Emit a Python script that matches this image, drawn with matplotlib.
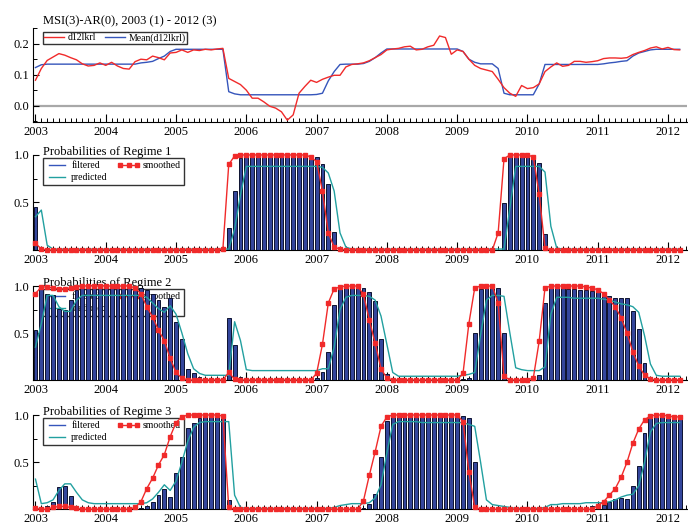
import numpy as np
import matplotlib.pyplot as plt
from matplotlib.lines import Line2D
from matplotlib.ticker import MultipleLocator, FixedLocator, FormatStrFormatter

plt.rcParams['font.family'] = ['Liberation Serif', 'DejaVu Serif']

# monthly data, 2003 (1) - 2012 (3)
start_year = 2003
title_top = 'MSI(3)-AR(0), 2003 (1) - 2012 (3)'

d12lkrl = [
    0.082, 0.120, 0.146, 0.157, 0.168, 0.163, 0.155, 0.148, 0.135, 0.128, 0.130, 0.138,
    0.130, 0.140, 0.128, 0.120, 0.118, 0.142, 0.150, 0.148, 0.160, 0.155, 0.148, 0.170,
    0.172, 0.180, 0.172, 0.180, 0.178, 0.182, 0.180, 0.183, 0.185, 0.088, 0.078, 0.068,
    0.050, 0.024, 0.024, 0.012, -0.002, -0.008, -0.020, -0.047, -0.030, 0.040, 0.062, 0.082,
    0.075, 0.085, 0.092, 0.098, 0.098, 0.125, 0.133, 0.135, 0.138, 0.145, 0.155, 0.165,
    0.180, 0.183, 0.185, 0.190, 0.192, 0.180, 0.182, 0.190, 0.195, 0.225, 0.220, 0.166,
    0.180, 0.175, 0.150, 0.130, 0.120, 0.115, 0.110, 0.085, 0.058, 0.040, 0.030, 0.065,
    0.055, 0.058, 0.070, 0.110, 0.125, 0.138, 0.127, 0.130, 0.143, 0.143, 0.140, 0.142,
    0.145, 0.152, 0.154, 0.154, 0.153, 0.155, 0.165, 0.172, 0.178, 0.186, 0.190, 0.183,
    0.188, 0.181, 0.180,
]
mean_d12lkrl = [
    0.123, 0.132, 0.134, 0.134, 0.134, 0.134, 0.134, 0.134, 0.134, 0.134, 0.134, 0.134,
    0.134, 0.134, 0.134, 0.134, 0.134, 0.134, 0.138, 0.140, 0.143, 0.152, 0.160, 0.175,
    0.182, 0.182, 0.182, 0.182, 0.182, 0.182, 0.182, 0.182, 0.182, 0.045, 0.038, 0.035,
    0.035, 0.035, 0.035, 0.035, 0.035, 0.035, 0.035, 0.035, 0.035, 0.035, 0.035, 0.035,
    0.036, 0.040, 0.080, 0.110, 0.133, 0.134, 0.134, 0.134, 0.136, 0.143, 0.155, 0.170,
    0.183, 0.183, 0.183, 0.183, 0.183, 0.183, 0.183, 0.183, 0.183, 0.183, 0.183, 0.183,
    0.183, 0.175, 0.150, 0.140, 0.135, 0.135, 0.135, 0.120, 0.040, 0.035, 0.035, 0.035,
    0.035, 0.035, 0.070, 0.133, 0.133, 0.133, 0.133, 0.133, 0.133, 0.133, 0.133, 0.133,
    0.133, 0.135, 0.138, 0.140, 0.143, 0.145, 0.160, 0.170, 0.175, 0.180, 0.182, 0.182,
    0.182, 0.182, 0.182,
]

filtered_1 = [
    0.45, 0, 0, 0, 0, 0, 0, 0, 0, 0, 0, 0,
    0, 0, 0, 0, 0, 0, 0, 0, 0, 0, 0, 0,
    0, 0, 0, 0, 0, 0, 0, 0, 0, 0.23, 0.62, 0.97,
    1.0, 1.0, 0.99, 1.0, 1.0, 1.0, 1.0, 1.0, 0.99, 1.0, 1.0, 0.97,
    0.98, 0.91, 0.69, 0.19, 0.02, 0, 0, 0, 0, 0, 0, 0,
    0, 0, 0, 0, 0, 0, 0, 0, 0, 0, 0, 0,
    0, 0, 0, 0, 0, 0, 0, 0, 0.49, 0.99, 1.0, 1.0,
    1.0, 0.99, 0.92, 0.17, 0, 0, 0, 0, 0, 0, 0, 0,
    0, 0, 0, 0, 0, 0, 0, 0, 0, 0, 0, 0,
    0, 0, 0,
]
smoothed_1 = [
    0.07, 0.01, 0, 0, 0, 0, 0, 0, 0, 0, 0, 0,
    0, 0, 0, 0, 0, 0, 0, 0, 0, 0, 0, 0,
    0, 0, 0, 0, 0, 0, 0, 0, 0.01, 0.90, 0.99, 1.0,
    1.0, 1.0, 1.0, 1.0, 1.0, 1.0, 1.0, 1.0, 1.0, 1.0, 1.0, 0.98,
    0.93, 0.62, 0.18, 0.03, 0.01, 0, 0, 0, 0, 0, 0, 0,
    0, 0, 0, 0, 0, 0, 0, 0, 0, 0, 0, 0,
    0, 0, 0, 0, 0, 0, 0, 0.18, 0.96, 1.0, 1.0, 1.0,
    1.0, 0.98, 0.59, 0.02, 0, 0, 0, 0, 0, 0, 0, 0,
    0, 0, 0, 0, 0, 0, 0, 0, 0, 0, 0, 0,
    0, 0, 0,
]
predicted_1 = [
    0.35, 0.42, 0.05, 0.01, 0.01, 0.01, 0.01, 0.01, 0.01, 0.01, 0.01, 0.01,
    0.01, 0.01, 0.01, 0.01, 0.01, 0.01, 0.01, 0.01, 0.01, 0.01, 0.01, 0.01,
    0.01, 0.01, 0.01, 0.01, 0.01, 0.01, 0.01, 0.01, 0.01, 0.01, 0.22, 0.58,
    0.88, 0.88, 0.88, 0.88, 0.88, 0.88, 0.88, 0.88, 0.88, 0.88, 0.88, 0.88,
    0.88, 0.87, 0.81, 0.62, 0.18, 0.03, 0.01, 0.01, 0.01, 0.01, 0.01, 0.01,
    0.01, 0.01, 0.01, 0.01, 0.01, 0.01, 0.01, 0.01, 0.01, 0.01, 0.01, 0.01,
    0.01, 0.01, 0.01, 0.01, 0.01, 0.01, 0.01, 0.01, 0.01, 0.44, 0.88, 0.88,
    0.88, 0.88, 0.88, 0.82, 0.25, 0.02, 0.01, 0.01, 0.01, 0.01, 0.01, 0.01,
    0.01, 0.01, 0.01, 0.01, 0.01, 0.01, 0.01, 0.01, 0.01, 0.01, 0.01, 0.01,
    0.01, 0.01, 0.01,
]

filtered_2 = [
    0.53, 0.97, 0.92, 0.90, 0.76, 0.74, 0.85, 0.96, 0.98, 0.98, 0.98, 0.98,
    0.98, 0.98, 0.98, 0.98, 0.98, 0.98, 0.98, 0.96, 0.91, 0.85, 0.78, 0.87,
    0.62, 0.44, 0.12, 0.07, 0.03, 0.01, 0.01, 0.01, 0.01, 0.66, 0.37, 0.03,
    0.01, 0.01, 0.01, 0.01, 0.01, 0.01, 0.01, 0.01, 0.01, 0.01, 0.01, 0.01,
    0.02, 0.08, 0.30, 0.80, 0.97, 0.98, 0.99, 0.99, 0.98, 0.94, 0.84, 0.44,
    0.06, 0, 0, 0, 0, 0, 0, 0, 0, 0, 0, 0,
    0, 0.01, 0.02, 0.50, 0.97, 0.98, 0.98, 0.98, 0.50, 0.01, 0, 0,
    0, 0, 0.05, 0.82, 0.98, 0.98, 0.98, 0.97, 0.97, 0.96, 0.96, 0.95,
    0.94, 0.92, 0.89, 0.87, 0.87, 0.87, 0.73, 0.54, 0.18, 0.03, 0, 0,
    0, 0, 0,
]
smoothed_2 = [
    0.92, 0.99, 0.99, 0.98, 0.97, 0.97, 0.98, 0.99, 1.0, 1.0, 1.0, 1.0,
    1.0, 1.0, 1.0, 1.0, 1.0, 0.98, 0.92, 0.78, 0.67, 0.53, 0.42, 0.23,
    0.08, 0.02, 0, 0, 0, 0, 0, 0, 0, 0.08, 0.01, 0,
    0, 0, 0, 0, 0, 0, 0, 0, 0, 0, 0, 0,
    0.07, 0.38, 0.82, 0.97, 0.99, 1.0, 1.0, 1.0, 0.91, 0.64, 0.39, 0.12,
    0.02, 0, 0, 0, 0, 0, 0, 0, 0, 0, 0, 0,
    0, 0.07, 0.60, 0.98, 1.0, 1.0, 1.0, 0.82, 0.04, 0, 0, 0,
    0, 0.02, 0.41, 0.98, 1.0, 1.0, 1.0, 1.0, 1.0, 1.0, 0.99, 0.98,
    0.96, 0.92, 0.85, 0.78, 0.66, 0.50, 0.30, 0.15, 0.05, 0.01, 0, 0,
    0, 0, 0,
]
predicted_2 = [
    0.35, 0.60, 0.90, 0.90, 0.78, 0.73, 0.73, 0.85, 0.90, 0.90, 0.90, 0.90,
    0.90, 0.90, 0.90, 0.90, 0.90, 0.90, 0.90, 0.88, 0.82, 0.76, 0.72, 0.79,
    0.70, 0.50, 0.28, 0.12, 0.07, 0.05, 0.05, 0.05, 0.05, 0.05, 0.62, 0.42,
    0.11, 0.10, 0.10, 0.10, 0.10, 0.10, 0.10, 0.10, 0.10, 0.10, 0.10, 0.10,
    0.10, 0.12, 0.12, 0.35, 0.75, 0.88, 0.90, 0.90, 0.90, 0.89, 0.85, 0.68,
    0.38, 0.08, 0.04, 0.04, 0.04, 0.04, 0.04, 0.04, 0.04, 0.04, 0.04, 0.04,
    0.04, 0.05, 0.06, 0.08, 0.48, 0.85, 0.90, 0.90, 0.89, 0.50, 0.13, 0.11,
    0.10, 0.10, 0.10, 0.14, 0.70, 0.88, 0.88, 0.88, 0.87, 0.87, 0.87, 0.87,
    0.87, 0.86, 0.85, 0.83, 0.81, 0.80, 0.78, 0.72, 0.47, 0.17, 0.05, 0.04,
    0.04, 0.04, 0.04,
]

filtered_3 = [
    0.02, 0.02, 0.04, 0.08, 0.24, 0.25, 0.14, 0.03, 0.01, 0.01, 0.01, 0.01,
    0.01, 0.01, 0.01, 0.01, 0.01, 0.01, 0.01, 0.03, 0.08, 0.15, 0.22, 0.13,
    0.38, 0.55, 0.86, 0.92, 0.97, 0.99, 0.99, 0.99, 0.99, 0.10, 0, 0,
    0, 0, 0, 0, 0, 0, 0, 0, 0, 0, 0, 0,
    0, 0, 0, 0, 0, 0, 0, 0.01, 0.01, 0.06, 0.16, 0.55,
    0.94, 1.0, 1.0, 1.0, 1.0, 0.99, 1.0, 1.0, 1.0, 1.0, 0.99, 1.0,
    1.0, 0.99, 0.97, 0.50, 0.02, 0.01, 0.01, 0.01, 0.01, 0, 0, 0,
    0, 0.01, 0.02, 0.01, 0.01, 0.01, 0.01, 0.02, 0.02, 0.02, 0.02, 0.03,
    0.02, 0.05, 0.08, 0.11, 0.12, 0.11, 0.25, 0.46, 0.81, 0.97, 1.0, 1.0,
    1.0, 0.99, 1.0,
]
smoothed_3 = [
    0.01, 0, 0, 0.02, 0.03, 0.03, 0.02, 0.01, 0, 0, 0, 0,
    0, 0, 0, 0, 0, 0.02, 0.08, 0.22, 0.33, 0.47, 0.58, 0.77,
    0.92, 0.98, 1.0, 1.0, 1.0, 1.0, 1.0, 1.0, 0.99, 0.02, 0, 0,
    0, 0, 0, 0, 0, 0, 0, 0, 0, 0, 0, 0,
    0, 0, 0, 0, 0, 0, 0, 0, 0.09, 0.36, 0.61, 0.88,
    0.98, 1.0, 1.0, 1.0, 1.0, 1.0, 1.0, 1.0, 1.0, 1.0, 1.0, 1.0,
    1.0, 0.93, 0.40, 0.02, 0, 0, 0, 0, 0, 0, 0, 0,
    0, 0, 0, 0, 0, 0, 0, 0, 0, 0, 0, 0,
    0.04, 0.08, 0.15, 0.22, 0.34, 0.50, 0.70, 0.85, 0.95, 0.99, 1.0, 1.0,
    0.99, 0.98, 0.98,
]
predicted_3 = [
    0.32, 0.06, 0.07, 0.10, 0.20, 0.27, 0.27, 0.18, 0.10, 0.07, 0.06, 0.06,
    0.06, 0.06, 0.06, 0.06, 0.06, 0.06, 0.06, 0.07, 0.11, 0.18, 0.26, 0.20,
    0.30, 0.50, 0.72, 0.87, 0.92, 0.93, 0.93, 0.93, 0.93, 0.93, 0.15, 0.02,
    0.01, 0.01, 0.01, 0.01, 0.01, 0.01, 0.01, 0.01, 0.01, 0.01, 0.01, 0.01,
    0.01, 0.01, 0.01, 0.02, 0.04, 0.05, 0.06, 0.06, 0.06, 0.07, 0.12, 0.26,
    0.60, 0.90, 0.93, 0.93, 0.93, 0.93, 0.92, 0.92, 0.92, 0.92, 0.92, 0.92,
    0.92, 0.92, 0.90, 0.88, 0.50, 0.10, 0.05, 0.04, 0.03, 0.02, 0.01, 0.01,
    0.01, 0.01, 0.01, 0.02, 0.05, 0.05, 0.06, 0.06, 0.06, 0.06, 0.07, 0.07,
    0.07, 0.07, 0.08, 0.10, 0.13, 0.15, 0.16, 0.25, 0.50, 0.82, 0.91, 0.92,
    0.92, 0.92, 0.92,
]

RED = '#f02a2a'
BLUE = '#3555bb'
TEAL = '#22a0a0'
BAR_FACE = '#34469c'
BAR_EDGE = '#0c1230'

months = start_year + np.arange(len(d12lkrl)) / 12.0

fig = plt.figure(figsize=(6.88, 5.28), dpi=100)
left, width = 0.0485, 0.950


def style_axis(ax):
    ax.spines['top'].set_visible(False)
    ax.spines['right'].set_visible(False)
    ax.set_xlim(2002.97, 2012.27)
    ax.xaxis.set_major_locator(MultipleLocator(1))
    ax.xaxis.set_minor_locator(MultipleLocator(1 / 12))
    ax.xaxis.set_major_formatter(FormatStrFormatter('%d'))
    ax.tick_params(which='major', direction='in', length=6, width=0.8, labelsize=9, pad=3)
    ax.tick_params(which='minor', direction='in', length=3, width=0.7)
    ax.tick_params(axis='y', which='major', length=4)
    ax.tick_params(axis='y', which='minor', length=3)


# top panel
ax0 = fig.add_axes([left, 0.7695, width, 0.177])
style_axis(ax0)
ax0.set_ylim(-0.052, 0.25)
ax0.yaxis.set_major_locator(FixedLocator([0.0, 0.1, 0.2]))
ax0.yaxis.set_minor_locator(MultipleLocator(0.05))
ax0.yaxis.set_major_formatter(FormatStrFormatter('%.1f'))
ax0.axhline(0, color='#a8a8a8', lw=1.6, zorder=1)
ax0.plot(months, d12lkrl, color=RED, lw=1.0, label='d12lkrl', zorder=3, clip_on=False)
ax0.plot(months, mean_d12lkrl, color=BLUE, lw=1.0, label='Mean(d12lkrl)', zorder=2)
ax0.text(0.0148, 1.043, title_top, transform=ax0.transAxes, ha='left', va='baseline', fontsize=9)
leg = ax0.legend(loc='upper left', bbox_to_anchor=(0.0148, 0.964), borderaxespad=0, ncol=2,
                 fontsize=7, frameon=True, fancybox=False, edgecolor='black', handlelength=2.0,
                 handletextpad=0.4, columnspacing=0.9, borderpad=0.15)
leg.get_frame().set_linewidth(1.0)

# regime panels
regimes = [
    ('Probabilities of Regime 1', filtered_1, smoothed_1, predicted_1, 0.5265, 0.180),
    ('Probabilities of Regime 2', filtered_2, smoothed_2, predicted_2, 0.2803, 0.178),
    ('Probabilities of Regime 3', filtered_3, smoothed_3, predicted_3, 0.0354, 0.1786),
]
for title, filt, smooth, pred, bottom, height in regimes:
    ax = fig.add_axes([left, bottom, width, height])
    style_axis(ax)
    ax.set_ylim(0, 1.0)
    ax.yaxis.set_major_locator(FixedLocator([0.5, 1.0]))
    ax.yaxis.set_minor_locator(FixedLocator([0.25, 0.75]))
    ax.yaxis.set_major_formatter(FormatStrFormatter('%.1f'))
    ax.bar(months, filt, width=0.66 / 12, color=BAR_FACE, edgecolor=BAR_EDGE, linewidth=0.7, zorder=2)
    ax.plot(months, pred, color=TEAL, lw=1.0, zorder=3, clip_on=False)
    ax.plot(months, smooth, color=RED, lw=1.0, marker='s', ms=2.4, zorder=4, clip_on=False)
    ax.text(0.0148, 1.0, title, transform=ax.transAxes, ha='left', va='baseline', fontsize=9)
    handles = [Line2D([], [], color=BLUE, lw=1.0),
               Line2D([], [], color=TEAL, lw=1.0),
               Line2D([], [], color=RED, lw=1.0, marker='s', ms=2.4)]
    lg = ax.legend(handles, ['filtered', 'predicted', 'smoothed'], loc='upper left',
                   bbox_to_anchor=(0.0148, 0.968), borderaxespad=0, ncol=2, fontsize=7,
                   frameon=True, fancybox=False, edgecolor='black', facecolor='none',
                   handlelength=2.3, handletextpad=0.3, columnspacing=1.0,
                   labelspacing=0.35, borderpad=0.3, numpoints=3)
    lg.get_frame().set_linewidth(1.0)
    lg.set_zorder(1)

fig.savefig('out.png', dpi=100)
